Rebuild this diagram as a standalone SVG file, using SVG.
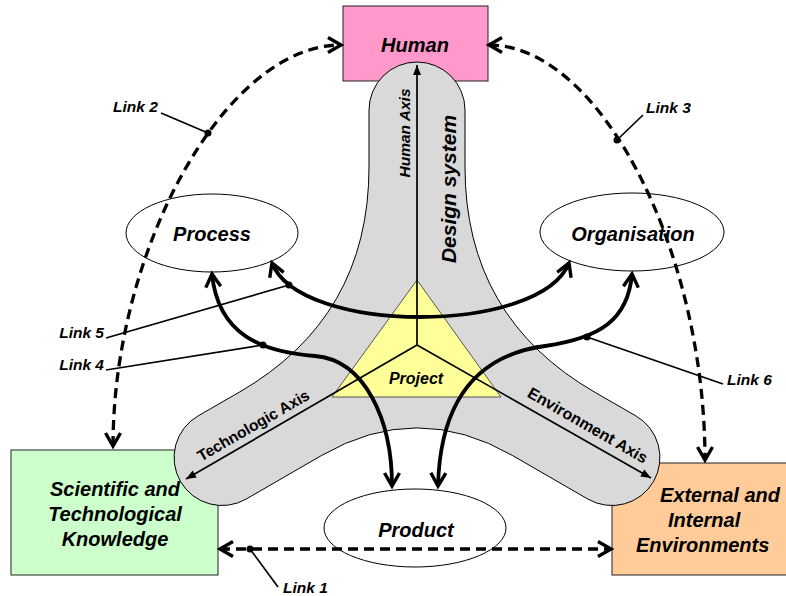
<svg xmlns="http://www.w3.org/2000/svg" width="786" height="596" viewBox="0 0 786 596">
<style>
text{font-family:"Liberation Sans",Arial,sans-serif;font-weight:bold;fill:#000}
.bi{font-style:italic}
.lbl{font-size:20px;font-style:italic;text-anchor:middle}
.lnk{font-size:15.5px;font-style:italic}
.box{stroke:#222;stroke-width:1}
.ell{fill:#fff;stroke:#000;stroke-width:1}
.solid{fill:none;stroke:#000;stroke-width:3.8}
.dash{fill:none;stroke:#000;stroke-width:3.3;stroke-dasharray:10 6}
.thin{fill:none;stroke:#000;stroke-width:1.7}
.axis{fill:none;stroke:#000;stroke-width:1.7}
</style>
<defs>
<marker id="v" viewBox="-16 -9 18 18" refX="0" refY="0" markerWidth="18" markerHeight="18" orient="auto-start-reverse" markerUnits="userSpaceOnUse" overflow="visible">
<path d="M-13,-7.5 L0,0 L-13,7.5" fill="none" stroke="#000" stroke-width="3.4" stroke-dasharray="none"/>
</marker>
<marker id="ax" viewBox="-10 -5 11 10" refX="0" refY="0" markerWidth="11" markerHeight="10" orient="auto" markerUnits="userSpaceOnUse" overflow="visible">
<path d="M-10,-4 L0,0 L-10,4 Z" fill="#000"/>
</marker>
</defs>

<g id="human"><rect class="box" x="343" y="6" width="145" height="75" fill="#FF99CC"/><text class="lbl" x="415" y="52">Human</text></g>
<g id="scientific"><rect class="box" x="11" y="450" width="207" height="125" fill="#CCFFCC"/>
<text class="lbl" x="115" y="496">Scientific and</text><text class="lbl" x="115" y="521">Technological</text><text class="lbl" x="115" y="546">Knowledge</text></g>
<g id="external"><rect class="box" x="612" y="463" width="190" height="112" fill="#FFCC99"/>
<text class="bi" style="font-size:20px" x="660" y="502">External and</text><text class="bi" style="font-size:20px" x="668" y="527">Internal</text><text class="bi" style="font-size:20px" x="636" y="552">Environments</text></g>

<g id="design-system">
<path d="M369,167 L369,110 A48,48 0 0 1 465,110 L465,167 Q465,317.3 594.9,392.3 L635.9,415.9 A48,48 0 0 1 587.9,499.1 L512.3,455.4 Q417,400.4 321.7,455.4 L246.1,499.1 A48,48 0 0 1 198.1,415.9 L239.1,392.3 Q369,317.3 369,167 Z" fill="#D9D9D9" stroke="#000" stroke-width="1"/>
</g>
<g id="project">
<polygon points="417,280 332,397 501,397" fill="#FFFF99" stroke="#555" stroke-width="1"/>
<text x="416" y="384" class="bi" style="font-size:16px" text-anchor="middle">Project</text>
</g>
<g id="axes">
<path class="axis" d="M417,345 L417,65" marker-end="url(#ax)"/>
<path class="axis" d="M417,345 L186,479" marker-end="url(#ax)"/>
<path class="axis" d="M417,345 L651,478" marker-end="url(#ax)"/>
<text class="bi" style="font-size:15.5px" text-anchor="middle" transform="translate(410,133) rotate(-90)">Human Axis</text>
<text class="bi" style="font-size:21px" text-anchor="middle" transform="translate(456,189) rotate(-90)">Design system</text>
<text style="font-size:15.5px" text-anchor="middle" transform="translate(256,430) rotate(-30)">Technologic Axis</text>
<text style="font-size:16px" text-anchor="middle" transform="translate(585,430) rotate(30)">Environment Axis</text>
</g>

<g id="process"><ellipse class="ell" cx="212" cy="233" rx="86" ry="39"/><text class="lbl" x="212" y="241">Process</text></g>
<g id="organisation"><ellipse class="ell" cx="632" cy="232" rx="92" ry="39"/><text class="lbl" x="633" y="241">Organisation</text></g>
<g id="product"><ellipse class="ell" cx="415" cy="528" rx="91" ry="39"/><text class="lbl" x="416" y="537">Product</text></g>

<g id="connectors">
<path class="solid" d="M272,263 C300,335 540,335 569,263" marker-start="url(#v)" marker-end="url(#v)"/>
<path class="solid" d="M212,274 C218,335 262,352 315,356 C365,360 392,420 392,486" marker-start="url(#v)" marker-end="url(#v)"/>
<path class="solid" d="M632,274 C628,320 600,338 545,346 C470,356 440,410 438,486" marker-start="url(#v)" marker-end="url(#v)"/>
<path class="dash" d="M113,446 C113,250 225,45 341,45" marker-start="url(#v)" marker-end="url(#v)"/>
<path class="dash" d="M489,45 C600,45 705,250 705,460" marker-start="url(#v)" marker-end="url(#v)"/>
<path class="dash" d="M220,549 L611,549" marker-start="url(#v)" marker-end="url(#v)"/>
<path class="thin" d="M250,549 L278,587"/>
<path class="thin" d="M161,113 L208,133"/>
<path class="thin" d="M617,140 L643,115"/>
<path class="thin" d="M106,338 L289,285"/>
<path class="thin" d="M106,370 L263,345"/>
<path class="thin" d="M587,337 L723,384"/>
<circle cx="250" cy="549" r="3.5"/>
<circle cx="208" cy="133" r="3.5"/>
<circle cx="617" cy="140" r="3.5"/>
<circle cx="289" cy="285" r="3.5"/>
<circle cx="263" cy="345" r="3.5"/>
<circle cx="587" cy="337" r="3.5"/>
<text class="lnk" x="283" y="593">Link 1</text>
<text class="lnk" x="113" y="112">Link 2</text>
<text class="lnk" x="646" y="113">Link 3</text>
<text class="lnk" x="104" y="370" text-anchor="end">Link 4</text>
<text class="lnk" x="104" y="338" text-anchor="end">Link 5</text>
<text class="lnk" x="727" y="385">Link 6</text>
</g>
</svg>
